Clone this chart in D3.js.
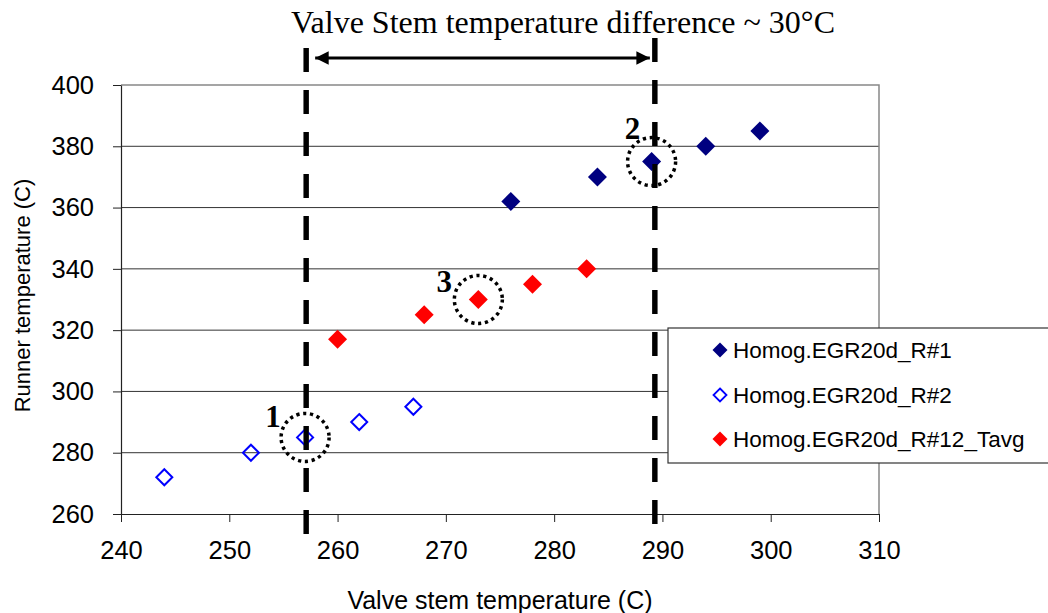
<!DOCTYPE html>
<html>
<head>
<meta charset="utf-8">
<script src="https://cdn.jsdelivr.net/npm/d3@7"></script>
<style>
  html, body { margin: 0; padding: 0; background: #fff; }
  svg { display: block; }
</style>
</head>
<body>
<svg id="chart" width="1048" height="613"></svg>
<script>
// Runner temperature vs valve stem temperature, three test series
const seriesNames = ["Homog.EGR20d_R#1", "Homog.EGR20d_R#2", "Homog.EGR20d_R#12_Tavg"];
const r1Stem   = [276, 284, 289, 294, 299];
const r1Runner = [362, 370, 375, 380, 385];
const r2Stem   = [244, 252, 257, 262, 267];
const r2Runner = [272, 280, 285, 290, 295];
const avgStem   = [260, 268, 273, 278, 283];
const avgRunner = [317, 325, 330, 335, 340];

const xTicks = [240, 250, 260, 270, 280, 290, 300, 310];
const yTicks = [260, 280, 300, 320, 340, 360, 380, 400];

// Highlighted operating points and the stem-temperature span between them
const markedLabels = ["1", "2", "3"];
const markedStem   = [257, 289, 273];
const markedRunner = [285, 375, 330];
const guideStem = [257.1, 289.3];
const titleText = "Valve Stem temperature difference ~ 30°C";

const svg = d3.select("#chart");
const m = { left: 121, right: 879, top: 85, bottom: 514 };

const x = d3.scaleLinear().domain([240, 310]).range([m.left, m.right]);
const y = d3.scaleLinear().domain([260, 400]).range([m.bottom, m.top]);

// Horizontal gridlines
svg.append("g").selectAll("line").data(yTicks.filter(d => d > 260 && d < 400)).join("line")
  .attr("x1", m.left).attr("x2", m.right)
  .attr("y1", d => y(d)).attr("y2", d => y(d))
  .attr("stroke", "#333").attr("stroke-width", 1);

// Plot frame (top and right edges)
svg.append("path")
  .attr("d", `M${m.left},${m.top}H${m.right}V${m.bottom}`)
  .attr("fill", "none").attr("stroke", "#888").attr("stroke-width", 1.5);

// Axes
const xAxis = svg.append("g").attr("transform", `translate(0,${m.bottom})`)
  .call(d3.axisBottom(x).tickValues(xTicks).tickSizeInner(8).tickSizeOuter(0).tickPadding(19));
const yAxis = svg.append("g").attr("transform", `translate(${m.left},0)`)
  .call(d3.axisLeft(y).tickValues(yTicks).tickSizeInner(8).tickSizeOuter(0).tickPadding(19));
[xAxis, yAxis].forEach(g => {
  g.select(".domain").attr("stroke", "#222").attr("stroke-width", 1.2);
  g.selectAll(".tick line").attr("stroke", "#222");
  g.selectAll(".tick text").attr("font-family", "Liberation Sans, Arial, sans-serif")
    .attr("font-size", 25.5).attr("fill", "#000");
});

// Axis titles
svg.append("text")
  .attr("x", (m.left + m.right) / 2).attr("y", 609)
  .attr("text-anchor", "middle")
  .attr("font-family", "Liberation Sans, Arial, sans-serif").attr("font-size", 25)
  .text("Valve stem temperature (C)");
svg.append("text")
  .attr("transform", `translate(30,${(m.top + m.bottom) / 2 - 4}) rotate(-90)`)
  .attr("text-anchor", "middle")
  .attr("font-family", "Liberation Sans, Arial, sans-serif").attr("font-size", 22)
  .text("Runner temperature (C)");

// Vertical dashed guides
const drawGuides = () => svg.append("g").selectAll("line").data(guideStem).join("line")
  .attr("x1", d => x(d)).attr("x2", d => x(d))
  .attr("y1", (d, i) => i === 0 ? 48 : 38)
  .attr("y2", 535)
  .attr("stroke", "#000").attr("stroke-width", 5)
  .attr("stroke-dasharray", "24 18");
drawGuides();

// Double-headed arrow between the guides
const defs = svg.append("defs");
["start", "end"].forEach(k => {
  defs.append("marker")
    .attr("id", "arrow-" + k)
    .attr("viewBox", "0 0 10 10").attr("refX", k === "end" ? 10 : 0).attr("refY", 5)
    .attr("markerWidth", 4.5).attr("markerHeight", 4.5).attr("markerUnits", "strokeWidth")
    .attr("orient", "auto")
    .append("path")
    .attr("d", k === "end" ? "M0,0L10,5L0,10Z" : "M10,0L0,5L10,10Z")
    .attr("fill", "#000");
});
svg.append("line")
  .attr("x1", x(guideStem[0]) + 9).attr("x2", x(guideStem[1]) - 5)
  .attr("y1", 58).attr("y2", 58)
  .attr("stroke", "#000").attr("stroke-width", 3)
  .attr("marker-start", "url(#arrow-start)").attr("marker-end", "url(#arrow-end)");

svg.append("text")
  .attr("x", 563).attr("y", 33)
  .attr("text-anchor", "middle")
  .attr("font-family", "Liberation Serif, Times New Roman, serif").attr("font-size", 32)
  .text(titleText);

// Data markers
const diamond = s => `M0,${-s}L${s},0L0,${s}L${-s},0Z`;
const series = [
  { stem: r1Stem, runner: r1Runner, fill: "#000080", stroke: "#000080", open: false },
  { stem: r2Stem, runner: r2Runner, fill: "none", stroke: "#0000ff", open: true },
  { stem: avgStem, runner: avgRunner, fill: "#ff0000", stroke: "#ff0000", open: false }
];
series.forEach(s => {
  svg.append("g").selectAll("path").data(s.stem).join("path")
    .attr("transform", (d, i) => `translate(${x(d)},${y(s.runner[i])})`)
    .attr("d", s.open ? diamond(8) : diamond(9.5))
    .attr("fill", s.open ? "#fff" : s.fill)
    .attr("fill-opacity", s.open ? 0 : 1)
    .attr("stroke", s.stroke).attr("stroke-width", s.open ? 2 : 0);
});

// Guide dashes sit on top of the markers they cross
drawGuides();

// Dotted circles and labels around the marked points
const labelOffset = [[-32, -10], [-19, -23], [-34, -8]];
markedStem.forEach((d, i) => {
  const cx = x(d), cy = y(markedRunner[i]);
  svg.append("circle")
    .attr("cx", cx).attr("cy", cy).attr("r", 24)
    .attr("fill", "none").attr("stroke", "#000").attr("stroke-width", 3.5)
    .attr("stroke-dasharray", "3.2 3.7");
  svg.append("text")
    .attr("x", cx + labelOffset[i][0]).attr("y", cy + labelOffset[i][1])
    .attr("text-anchor", "middle")
    .attr("font-family", "Liberation Serif, Times New Roman, serif")
    .attr("font-weight", "bold").attr("font-size", 31)
    .text(markedLabels[i]);
});

// Legend
const lg = svg.append("g");
lg.append("rect")
  .attr("x", 668).attr("y", 328).attr("width", 390).attr("height", 135)
  .attr("fill", "#fff").attr("stroke", "#333").attr("stroke-width", 1.2);
const legendRows = [350, 395, 439];
seriesNames.forEach((name, i) => {
  const s = series[i];
  lg.append("path")
    .attr("transform", `translate(720,${legendRows[i]})`)
    .attr("d", s.open ? diamond(6.5) : diamond(7.5))
    .attr("fill", s.open ? "#fff" : s.fill)
    .attr("stroke", s.stroke).attr("stroke-width", s.open ? 1.8 : 0);
  lg.append("text")
    .attr("x", 733).attr("y", legendRows[i]).attr("dy", "0.36em")
    .attr("font-family", "Liberation Sans, Arial, sans-serif").attr("font-size", 22.5)
    .text(name);
});
</script>
</body>
</html>
